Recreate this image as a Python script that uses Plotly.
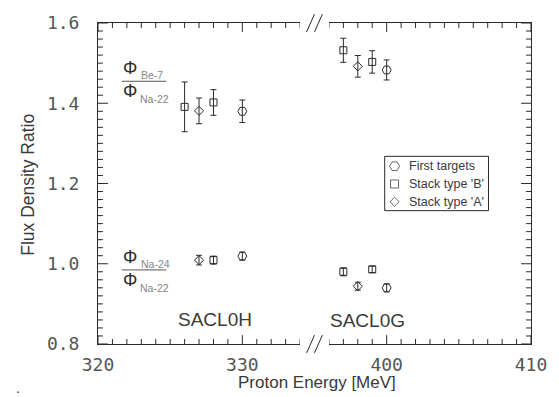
import plotly.graph_objects as go

# ---- data: flux density ratios vs proton energy ----
# Series: first targets, stack type 'B', stack type 'A'
energy_first = [330, 400]
be7_first = [1.380, 1.483]
be7_first_err = [0.028, 0.025]
na24_first = [1.019, 0.940]
na24_first_err = [0.010, 0.010]

energy_b = [326, 328, 397, 399]
be7_b = [1.391, 1.402, 1.532, 1.503]
be7_b_err = [0.062, 0.032, 0.030, 0.028]
na24_b = [None, 1.009, 0.980, 0.986]
na24_b_err = [0.0, 0.010, 0.010, 0.008]

energy_a = [327, 398]
be7_a = [1.381, 1.492]
be7_a_err = [0.032, 0.027]
na24_a = [1.009, 0.944]
na24_a_err = [0.012, 0.010]

series_names = ["First targets", "Stack type 'B'", "Stack type 'A'"]

x_left_range = [320, 334]
x_right_range = [396, 410]
y_range = [0.8, 1.6]
x_label_vals = [320, 330, 400, 410]
y_label_vals = [0.8, 1.0, 1.2, 1.4, 1.6]
y_label_text = ["0.8", "1.0", "1.2", "1.4", "1.6"]

# ---- figure geometry (pixels) ----
W, H = 559, 397
ML, MR, MT, MB = 98, 23, 19, 53
PW = W - ML - MR
PH = H - MT - MB
PX_PER_MEV = 14.6


def px(x):
    return (x - ML) / PW


def py(y):
    return (H - MB - y) / PH


INK = "#2a2a2a"
TXT = "#3a3a3a"
SANS = "Liberation Sans, Arial, sans-serif"
MONO = "DejaVu Sans Mono, monospace"

symbols = ["hexagon2-open", "square-open", "diamond-open"]
sizes = [9, 7, 7]
series = [
    (energy_first, be7_first, be7_first_err, na24_first, na24_first_err),
    (energy_b, be7_b, be7_b_err, na24_b, na24_b_err),
    (energy_a, be7_a, be7_a_err, na24_a, na24_a_err),
]

fig = go.Figure()

# ---- inward tick marks, drawn as line segments in each panel's own scale ----
MAJOR_LEN, MINOR_LEN = 9, 5
y_per_px = (y_range[1] - y_range[0]) / PH
x_per_px = 1.0 / PX_PER_MEV
y_tick_vals = [round(y_range[0] + 0.02 * i, 2) for i in range(41)]

for panel, (lo, hi), edge, sign in (("", x_left_range, x_left_range[0], 1),
                                    ("2", x_right_range, x_right_range[1], -1)):
    tx, ty = [], []
    for v in range(lo, hi + 1):
        n = (MAJOR_LEN if v % 10 == 0 else MINOR_LEN) * y_per_px
        tx += [v, v, None, v, v, None]
        ty += [y_range[0], y_range[0] + n, None, y_range[1], y_range[1] - n, None]
    for i, v in enumerate(y_tick_vals):
        n = (MAJOR_LEN + 1 if i % 10 == 0 else MINOR_LEN) * x_per_px
        tx += [edge, edge + sign * n, None]
        ty += [v, v, None]
    fig.add_trace(go.Scatter(
        x=tx, y=ty, mode="lines", showlegend=False, hoverinfo="skip",
        xaxis="x" + panel, yaxis="y" + panel, cliponaxis=False,
        line=dict(color=INK, width=1),
    ))

for name, sym, size, (xs, y1, e1, y2, e2) in zip(series_names, symbols, sizes, series):
    for panel, (lo, hi) in (("", x_left_range), ("2", x_right_range)):
        px_, py_, pe = [], [], []
        for x, a, ea, b, eb in zip(xs, y1, e1, y2, e2):
            if lo <= x <= hi:
                px_ += [x, x]
                py_ += [a, b]
                pe += [ea, eb]
        if not px_:
            continue
        fig.add_trace(go.Scatter(
            x=px_, y=py_, mode="markers", name=name, showlegend=False,
            xaxis="x" + panel, yaxis="y" + panel,
            marker=dict(symbol=sym, size=size, color=INK,
                        line=dict(width=1, color=INK)),
            error_y=dict(type="data", array=pe, visible=True,
                         color=INK, thickness=1, width=3),
            cliponaxis=False,
        ))

# legend key: symbols drawn on a pixel-space overlay axis
LEG_L, LEG_R, LEG_T, LEG_B = 388, 493, 154, 209
leg_rows = [164, 182, 200]
fig.add_trace(go.Scatter(
    x=[398] * 3, y=leg_rows, mode="markers", showlegend=False,
    xaxis="x3", yaxis="y3", hoverinfo="skip", cliponaxis=False,
    marker=dict(symbol=symbols, size=[10, 8, 7], color=INK,
                line=dict(width=1, color=INK)),
))

tickfont = dict(family=MONO, size=18, color="#555")

left_end = ML + (x_left_range[1] - x_left_range[0]) * PX_PER_MEV
right_start = W - MR - (x_right_range[1] - x_right_range[0]) * PX_PER_MEV


def axis(**kw):
    d = dict(showline=True, linecolor=INK, linewidth=1, ticks="",
             showgrid=False, zeroline=False, tickmode="array")
    d.update(kw)
    return d


fig.update_layout(
    width=W, height=H,
    margin=dict(l=ML, r=MR, t=MT, b=MB),
    paper_bgcolor="white", plot_bgcolor="rgba(0,0,0,0)",
    showlegend=False,
    xaxis=axis(domain=[0, px(left_end)], range=x_left_range, anchor="y",
               tickvals=x_label_vals, mirror=True, tickfont=tickfont,
               ticklabelstandoff=4),
    xaxis2=axis(domain=[px(right_start), 1], range=x_right_range, anchor="y2",
                tickvals=x_label_vals, mirror=True, tickfont=tickfont,
                ticklabelstandoff=4),
    yaxis=axis(domain=[0, 1], range=y_range, anchor="x",
               tickvals=y_label_vals, ticktext=y_label_text,
               ticklabelstandoff=14, tickfont=tickfont),
    yaxis2=axis(domain=[0, 1], range=y_range, anchor="x2", matches="y",
                side="right", showticklabels=False, tickvals=y_label_vals),
    xaxis3=dict(domain=[0, 1], range=[ML, W - MR], anchor="y3",
                visible=False, fixedrange=True),
    yaxis3=dict(domain=[0, 1], range=[H - MB, MT], anchor="x3",
                visible=False, fixedrange=True),
)

shapes = []
ann = []


def text(x, y, s, size, color=TXT, family=SANS, xanchor="center", angle=0):
    ann.append(dict(x=px(x), y=py(y), xref="paper", yref="paper", text=s,
                    showarrow=False, xanchor=xanchor, yanchor="middle",
                    textangle=angle,
                    font=dict(family=family, size=size, color=color)))


# axis titles
text(320, 383, "Proton Energy [MeV]", 17)
text(27, 183, "Flux Density Ratio", 17.5, angle=-90)

# run labels
text(216, 319, "SACL0H", 19)
text(371, 320, "SACL0G", 19)

# ratio labels drawn as fractions
SUB = "#858585"
fractions = [(78, "Be-7", "Na-22"), (269, "Na-24", "Na-22")]
for base, num_sub, den_sub in fractions:
    text(130, base - 13, "Φ", 18, color=INK)
    text(139.5, base - 6, num_sub, 10.5, color=SUB, xanchor="left")
    text(130, base + 10, "Φ", 18, color=INK)
    text(138.5, base + 18, den_sub, 10.5, color=SUB, xanchor="left")
    shapes.append(dict(type="line", xref="paper", yref="paper",
                       x0=px(122), x1=px(167), y0=py(base), y1=py(base),
                       line=dict(color="#555", width=1)))

# legend labels and frame
for yy, name in zip(leg_rows, series_names):
    text(411, yy, name, 12.5, xanchor="left")
shapes.append(dict(type="rect", xref="paper", yref="paper",
                   x0=px(LEG_L), x1=px(LEG_R), y0=py(LEG_B), y1=py(LEG_T),
                   line=dict(color=INK, width=1), fillcolor="white",
                   layer="below"))

text(17, 389, ".", 14)

# axis-break marks on top and bottom frame lines
for yc in (MT, H - MB):
    for x0 in (309, 317):
        shapes.append(dict(type="line", xref="paper", yref="paper",
                           x0=px(x0), y0=py(yc + 9), x1=px(x0 + 8), y1=py(yc - 9),
                           line=dict(color=INK, width=1)))

fig.update_layout(annotations=ann, shapes=shapes)
fig.write_html("out.html")
